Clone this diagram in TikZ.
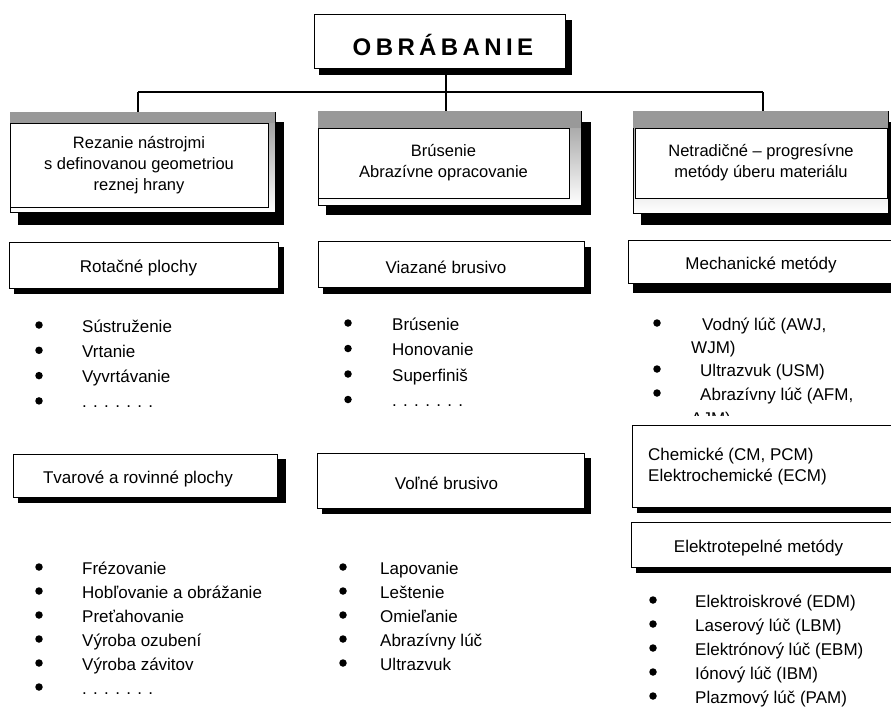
\documentclass[tikz,border=0pt]{standalone}
\usepackage{fontspec}
\setmainfont{Liberation Sans}
\usetikzlibrary{backgrounds}
\begin{document}
\begin{tikzpicture}[x=1pt,y=-1pt,
  frame/.style={draw=black, line width=1pt},
  outerbox/.style={frame, top color=gray!80, bottom color=white, inner sep=0pt},
  innerbox/.style={frame, fill=white, inner sep=0pt, align=center,
    font=\fontsize{16.5}{21}\selectfont},
  subbox/.style={frame, fill=white, inner sep=0pt},
  band/.style={fill=gray!80},
  shade box/.style={fill=black},
  lbl/.style={inner sep=0pt, align=center, font=\fontsize{17}{21}\selectfont},
  item/.style={inner sep=0pt, anchor=base west, font=\fontsize{17}{20}\selectfont},
  bul/.style={circle, fill=black, minimum size=7.5pt, inner sep=0pt},
  link/.style={line width=1.4pt},
]
\useasboundingbox (0,0) rectangle (891,710);
\clip (0,0) rectangle (891,710);

% ---- title ----
\node[subbox, minimum width=251pt, minimum height=54pt] (top) at (439.5,41) {};
\node[inner sep=0pt, anchor=base, font=\fontsize{24}{28}\selectfont\bfseries] (title) at (443,55)
  {O\kern4.4pt B\kern4.4pt R\kern4.4pt Á\kern4.4pt B\kern4.4pt A\kern4.4pt N\kern4.4pt I\kern4.4pt E};

% ---- main branches ----
\node[outerbox, minimum width=265pt, minimum height=100pt] (h1o) at (142.5,162) {};
\node[innerbox, minimum width=258pt, minimum height=84pt] (h1) at (139,165)
  {Rezanie nástrojmi\\s definovanou geometriou\\reznej hrany};
\fill[band] ([shift={(0.5pt,-0.5pt)}]h1o.north west) rectangle ([xshift=-0.5pt]h1.north -| h1o.east);

\node[outerbox, minimum width=263pt, minimum height=94pt] (h2o) at (449.5,158) {};
\node[innerbox, minimum width=251pt, minimum height=70pt] (h2) at (443.5,163)
  {Brúsenie\\Abrazívne opracovanie};
\fill[band] ([shift={(0.5pt,-0.5pt)}]h2o.north west) rectangle ([xshift=-0.5pt]h2.north -| h2o.east);

\node[outerbox, minimum width=255pt, minimum height=102pt] (h3o) at (760.5,162) {};
\node[innerbox, minimum width=252pt, minimum height=70pt] (h3) at (761,163)
  {Netradičné – progresívne\\metódy úberu materiálu};
\fill[band] ([shift={(0.5pt,-0.5pt)}]h3o.north west) rectangle ([xshift=-0.5pt]h3.north -| h3o.east);

% ---- sub-group boxes ----
\node[subbox, minimum width=269pt, minimum height=46pt] (rot) at (143.5,265) {};
\node[lbl] (rotT) at ([shift={(-5pt,-3pt)}]rot.center) {Rotačné plochy};
\node[subbox, minimum width=264pt, minimum height=43pt] (tvar) at (145,475.5) {};
\node[lbl] (tvarT) at ([shift={(-7pt,-3pt)}]tvar.center) {Tvarové a rovinné plochy};

\node[subbox, minimum width=266pt, minimum height=46pt] (viaz) at (451,264) {};
\node[lbl] (viazT) at ([shift={(-5pt,-3pt)}]viaz.center) {Viazané brusivo};
\node[subbox, minimum width=267pt, minimum height=55pt] (voln) at (450.5,480.5) {};
\node[lbl] (volnT) at ([shift={(-4pt,-3pt)}]voln.center) {Voľné brusivo};

\node[subbox, minimum width=268pt, minimum height=43pt] (mech) at (762,261.5) {};
\node[lbl] (mechT) at ([shift={(-1pt,-3pt)}]mech.center) {Mechanické metódy};

% ---- bullet lists ----
\foreach \t [count=\i] in {Sústruženie, Vrtanie, Vyvrtávanie, . . . . . . .} {
  \node[bul] (b11-\i) at (39,{325+25.3*(\i-1)}) {};
  \node[item] (l11-\i) at (82,{332+25.3*(\i-1)}) {\t};
}
\foreach \t [count=\i] in {Frézovanie, Hobľovanie a obrážanie, Preťahovanie, Výroba ozubení, Výroba závitov, . . . . . . .} {
  \node[bul] (b12-\i) at (39,{567+24*(\i-1)}) {};
  \node[item] (l12-\i) at (82,{574+24*(\i-1)}) {\t};
}
\foreach \t [count=\i] in {Brúsenie, Honovanie, Superfiniš, . . . . . . .} {
  \node[bul] (b21-\i) at (348,{323+25.5*(\i-1)}) {};
  \node[item] (l21-\i) at (392,{330+25.5*(\i-1)}) {\t};
}
\foreach \t [count=\i] in {Lapovanie, Leštenie, Omieľanie, Abrazívny lúč, Ultrazvuk} {
  \node[bul] (b22-\i) at (343,{567+24*(\i-1)}) {};
  \node[item] (l22-\i) at (380,{574+24*(\i-1)}) {\t};
}

\node[bul] (b31-1) at (657,323) {};
\node[item] (l31-1) at (702,330) {Vodný lúč (AWJ,};
\node[item] (l31-1b) at (691,353) {WJM)};
\node[bul] (b31-2) at (657,369) {};
\node[item] (l31-2) at (700,376) {Ultrazvuk (USM)};
\node[bul] (b31-3) at (657,393) {};
\node[item] (l31-3) at (700,400) {Abrazívny lúč (AFM,};
\begin{scope}
  \clip (600,405) rectangle (891,415);
  \node[item] (l31-3b) at (691,424) {AJM)};
\end{scope}

\node[subbox, minimum width=264pt, minimum height=82pt] (chem) at (764,466) {};
\node[lbl, align=left, anchor=base west] (chemT) at (648,481)
  {Chemické (CM, PCM)\\Elektrochemické (ECM)};

\node[subbox, minimum width=265pt, minimum height=45pt] (elte) at (763.5,544.5) {};
\node[lbl] (elteT) at ([shift={(-5pt,-3pt)}]elte.center) {Elektrotepelné metódy};

\foreach \t [count=\i] in {Elektroiskrové (EDM), Laserový lúč (LBM), Elektrónový lúč (EBM), Iónový lúč (IBM), Plazmový lúč (PAM)} {
  \node[bul] (b32-\i) at (653,{600+24*(\i-1)}) {};
  \node[item] (l32-\i) at (695,{607+24*(\i-1)}) {\t};
}

% ---- connectors ----
\coordinate (j1) at (138,92);
\coordinate (j2) at (446,92);
\coordinate (j3) at (763,92);
\draw[link] (j1) -- (j3);
\draw[link] (j2 |- top.south) -- (j2) -- (j2 |- h2o.north);
\draw[link] (j1) -- (j1 |- h1o.north);
\draw[link] (j3) -- (j3 |- h3o.north);

% ---- drop shadows ----
\begin{pgfonlayer}{background}
  \fill[shade box] ([shift={(5pt,-6pt)}]top.north west) rectangle ([shift={(6pt,-6pt)}]top.south east);
  \fill[shade box] ([shift={(8pt,-10pt)}]h1o.north west) rectangle ([shift={(8pt,-12pt)}]h1o.south east);
  \fill[shade box] ([shift={(8pt,-11pt)}]h2o.north west) rectangle ([shift={(9pt,-9pt)}]h2o.south east);
  \fill[shade box] ([shift={(8pt,-11pt)}]h3o.north west) rectangle ([shift={(8pt,-11pt)}]h3o.south east);
  \fill[shade box] ([shift={(5pt,-5pt)}]rot.north west) rectangle ([shift={(5pt,-5pt)}]rot.south east);
  \fill[shade box] ([shift={(5pt,-5pt)}]tvar.north west) rectangle ([shift={(8pt,-5pt)}]tvar.south east);
  \fill[shade box] ([shift={(5pt,-6pt)}]viaz.north west) rectangle ([shift={(6pt,-6pt)}]viaz.south east);
  \fill[shade box] ([shift={(5pt,-5pt)}]voln.north west) rectangle ([shift={(6pt,-5pt)}]voln.south east);
  \fill[shade box] ([shift={(5pt,-9pt)}]mech.north west) rectangle ([shift={(5pt,-9pt)}]mech.south east);
  \fill[shade box] ([shift={(5pt,-5pt)}]chem.north west) rectangle ([shift={(5pt,-5pt)}]chem.south east);
  \fill[shade box] ([shift={(5pt,-5pt)}]elte.north west) rectangle ([shift={(5pt,-5pt)}]elte.south east);
\end{pgfonlayer}
\end{tikzpicture}
\end{document}
